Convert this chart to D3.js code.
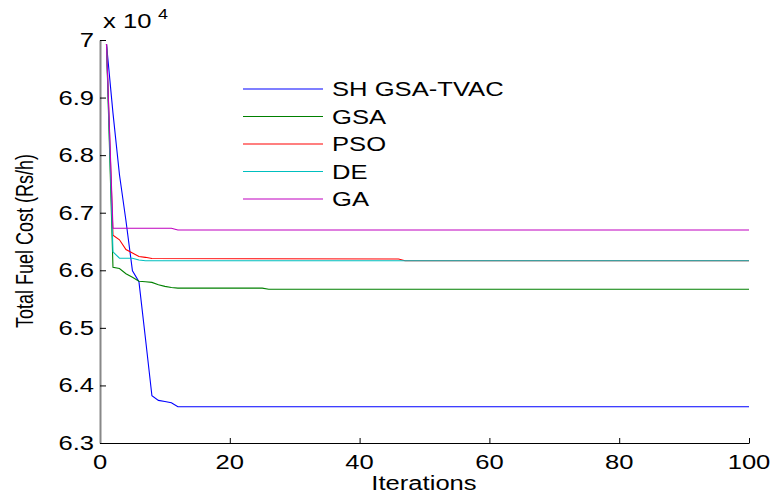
<!DOCTYPE html>
<html>
<head>
<meta charset="utf-8">
<script src="https://cdn.jsdelivr.net/npm/d3@7"></script>
<style>
  body { margin: 0; background: #fff; }
  text { font-family: "Liberation Sans", Arial, sans-serif; fill: #000; }
</style>
</head>
<body>
<svg id="mainSvg" width="770" height="495"></svg>
<script>
// values, cost in units of 10^4 Rs/h, [iteration, cost]
var shgsaTvac = [[1,6.993],[2,6.873],[3,6.766],[4,6.686],[5,6.599],[6,6.580],[7,6.482],[8,6.382],[9,6.374],[10,6.372],[11,6.370],[12,6.363],[100,6.363]];
var gsa = [[1,6.993],[2,6.605],[3,6.603],[4,6.594],[5,6.588],[6,6.581],[7,6.580],[8,6.579],[9,6.575],[10,6.572],[11,6.570],[12,6.569],[25,6.569],[26,6.567],[100,6.567]];
var pso = [[1,6.993],[2,6.661],[3,6.653],[4,6.636],[5,6.630],[6,6.624],[7,6.6225],[8,6.6205],[46,6.6195],[47,6.6166],[100,6.6166]];
var de = [[1,6.993],[2,6.632],[3,6.621],[5,6.621],[6,6.618],[7,6.6166],[100,6.6166]];
var ga = [[1,6.993],[2,6.673],[11,6.673],[12,6.670],[100,6.670]];

var seriesNames = ["SH GSA-TVAC", "GSA", "PSO", "DE", "GA"];
var seriesData = [shgsaTvac, gsa, pso, de, ga];
var seriesColors = ["#0000ff", "#008000", "#ff0000", "#00bfbf", "#bf00bf"];

var xTicks = [0, 20, 40, 60, 80, 100];
var yTicks = [6.3, 6.4, 6.5, 6.6, 6.7, 6.8, 6.9, 7];
var yTickLabels = ["6.3", "6.4", "6.5", "6.6", "6.7", "6.8", "6.9", "7"];

// the figure is stretched sideways, so is its lettering
var stretch = 1.28;

var svg = d3.select("#mainSvg");

var x = d3.scaleLinear().domain([0, 100]).range([100, 749]);
var y = d3.scaleLinear().domain([6.3, 7]).range([443, 40]);

function addText(g, px, py, str, size, anchor) {
	return g.append("text")
		.attr("transform", "translate(" + px + "," + py + ") scale(" + stretch + ",1)")
		.attr("text-anchor", anchor)
		.style("font-size", size + "px")
		.text(str);
}

// curves
var valueline = d3.line()
	.x(function(d) { return x(d[0]); })
	.y(function(d) { return y(d[1]); });

svg.selectAll(".curve")
	.data(seriesData)
	.enter()
	.append("path")
	.attr("class", "curve")
	.attr("d", valueline)
	.attr("fill", "none")
	.attr("stroke", function(d, i) { return seriesColors[i]; })
	.attr("stroke-width", 1.1);

// axes, ticks pointing inwards
var xAxisG = svg.append("g")
	.attr("transform", "translate(0,443)")
	.call(d3.axisBottom(x).tickValues(xTicks).tickSize(-5).tickSizeOuter(0).tickFormat(""));
xAxisG.select(".domain").attr("stroke", "#000");

var yAxisG = svg.append("g")
	.attr("transform", "translate(100,0)")
	.call(d3.axisLeft(y).tickValues(yTicks).tickSize(-6).tickSizeOuter(0).tickFormat(""));
yAxisG.select(".domain").attr("stroke", "#888").attr("stroke-width", 2);

xTicks.forEach(function(t) {
	addText(svg, x(t), 469, String(t), 20, "middle");
});
yTicks.forEach(function(t, i) {
	addText(svg, 94, y(t) + 7, yTickLabels[i], 20, "end");
});

addText(svg, 424, 490, "Iterations", 20, "middle");

svg.append("text")
	.attr("transform", "translate(33,241) scale(" + stretch + ",1) rotate(-90)")
	.attr("text-anchor", "middle")
	.style("font-size", "18px")
	.text("Total Fuel Cost (Rs/h)");

addText(svg, 103, 28, "x 10", 20, "start");
addText(svg, 158, 19, "4", 14, "start");

// legend
var legend = svg.append("g");
seriesNames.forEach(function(name, i) {
	var ly = 89 + i * 27.5;
	legend.append("line")
		.attr("x1", 243).attr("x2", 323)
		.attr("y1", ly).attr("y2", ly)
		.attr("stroke", seriesColors[i])
		.attr("stroke-width", 1.1);
	addText(legend, 332, ly + 7, name, 20, "start");
});
</script>
</body>
</html>
